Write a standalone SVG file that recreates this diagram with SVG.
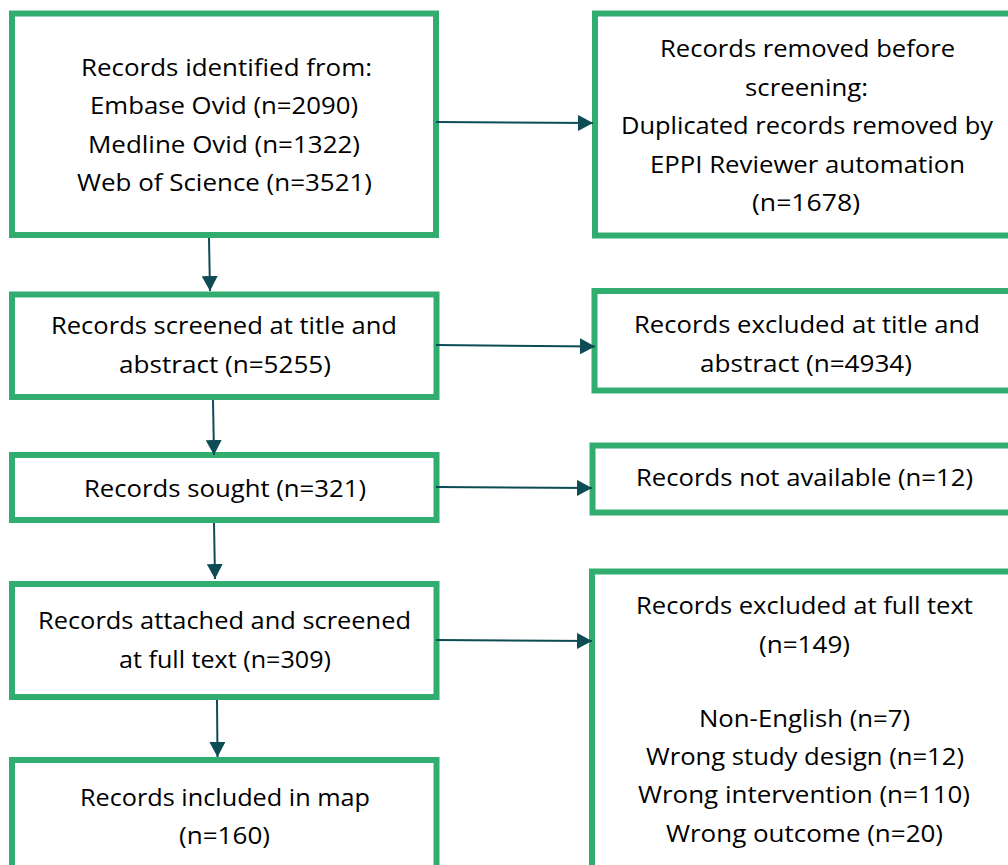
<svg xmlns="http://www.w3.org/2000/svg" width="1008" height="865" viewBox="0 0 1008 865">
<style>
.box{fill:#ffffff;stroke:#31AE6F;stroke-width:6}
.t{font-family:"Open Sans","Noto Sans","Liberation Sans",sans-serif;font-size:24px;fill:#000;text-anchor:middle}
.c{stroke:#0D4B55;stroke-width:2;fill:none;marker-end:url(#ah)}
</style>
<defs>
<marker id="ah" markerUnits="userSpaceOnUse" markerWidth="16" markerHeight="16" refX="15" refY="8" orient="auto">
<path d="M0,0 L15,8 L0,16 Z" fill="#0D4B55"/>
</marker>
</defs>
<rect width="1008" height="865" fill="#ffffff"/>
<g id="identified">
<rect class="box" x="12" y="13.5" width="424" height="221.5"/>
<text class="t" x="226.5" y="76" textLength="291" lengthAdjust="spacingAndGlyphs">Records identified from:</text>
<text class="t" x="224" y="114" textLength="268" lengthAdjust="spacingAndGlyphs">Embase Ovid (n=2090)</text>
<text class="t" x="224" y="152.5" textLength="272" lengthAdjust="spacingAndGlyphs">Medline Ovid (n=1322)</text>
<text class="t" x="224.5" y="191" textLength="295" lengthAdjust="spacingAndGlyphs">Web of Science (n=3521)</text>
</g>
<g id="removed">
<rect class="box" x="595" y="13.5" width="420" height="222"/>
<text class="t" x="807.5" y="57" textLength="295" lengthAdjust="spacingAndGlyphs">Records removed before</text>
<text class="t" x="806.5" y="95.5" textLength="123" lengthAdjust="spacingAndGlyphs">screening:</text>
<text class="t" x="807" y="134" textLength="372" lengthAdjust="spacingAndGlyphs">Duplicated records removed by</text>
<text class="t" x="807.5" y="172.5" textLength="315" lengthAdjust="spacingAndGlyphs">EPPI Reviewer automation</text>
<text class="t" x="806" y="211" textLength="108" lengthAdjust="spacingAndGlyphs">(n=1678)</text>
</g>
<g id="screened">
<rect class="box" x="12" y="294.5" width="424.5" height="102.5"/>
<text class="t" x="224" y="334" textLength="346" lengthAdjust="spacingAndGlyphs">Records screened at title and</text>
<text class="t" x="225" y="373" textLength="212" lengthAdjust="spacingAndGlyphs">abstract (n=5255)</text>
</g>
<g id="excluded-title">
<rect class="box" x="594.5" y="291" width="420" height="99.5"/>
<text class="t" x="807" y="333" textLength="346" lengthAdjust="spacingAndGlyphs">Records excluded at title and</text>
<text class="t" x="806" y="372" textLength="212" lengthAdjust="spacingAndGlyphs">abstract (n=4934)</text>
</g>
<g id="sought">
<rect class="box" x="12" y="455" width="424.5" height="65"/>
<text class="t" x="225" y="497" textLength="282" lengthAdjust="spacingAndGlyphs">Records sought (n=321)</text>
</g>
<g id="not-available">
<rect class="box" x="592.5" y="445.5" width="422" height="67"/>
<text class="t" x="804.5" y="486" textLength="337" lengthAdjust="spacingAndGlyphs">Records not available (n=12)</text>
</g>
<g id="full-text">
<rect class="box" x="12" y="584" width="424.5" height="113"/>
<text class="t" x="224.5" y="629" textLength="373" lengthAdjust="spacingAndGlyphs">Records attached and screened</text>
<text class="t" x="225" y="668" textLength="212" lengthAdjust="spacingAndGlyphs">at full text (n=309)</text>
</g>
<g id="excluded-full">
<rect class="box" x="592" y="571.5" width="423" height="310"/>
<text class="t" x="804.5" y="614" textLength="337" lengthAdjust="spacingAndGlyphs">Records excluded at full text</text>
<text class="t" x="804.5" y="653" textLength="91" lengthAdjust="spacingAndGlyphs">(n=149)</text>
<text class="t" x="804.5" y="727" textLength="211" lengthAdjust="spacingAndGlyphs">Non-English (n=7)</text>
<text class="t" x="805" y="765" textLength="318" lengthAdjust="spacingAndGlyphs">Wrong study design (n=12)</text>
<text class="t" x="804" y="803" textLength="332" lengthAdjust="spacingAndGlyphs">Wrong intervention (n=110)</text>
<text class="t" x="804.5" y="842" textLength="277" lengthAdjust="spacingAndGlyphs">Wrong outcome (n=20)</text>
</g>
<g id="included">
<rect class="box" x="12" y="760" width="424.5" height="120"/>
<text class="t" x="225" y="806" textLength="290" lengthAdjust="spacingAndGlyphs">Records included in map</text>
<text class="t" x="224.5" y="844" textLength="91" lengthAdjust="spacingAndGlyphs">(n=160)</text>
</g>
<g id="connectors">
<path class="c" d="M436,122 L593,123"/>
<path class="c" d="M436,345 L595,346.5"/>
<path class="c" d="M436,487 L592,488"/>
<path class="c" d="M436,640 L592,641"/>
<path class="c" d="M209,238 L210,291"/>
<path class="c" d="M213,400 L214,455"/>
<path class="c" d="M214,523 L215,579"/>
<path class="c" d="M217,700 L217.5,757"/>
</g>
</svg>
